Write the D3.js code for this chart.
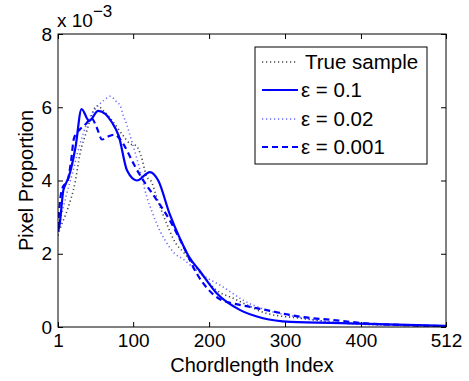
<!DOCTYPE html>
<html><head><meta charset="utf-8">
<script src="https://cdn.jsdelivr.net/npm/d3@7"></script>
<style>body{margin:0;background:#fff;} svg{display:block;font-family:"Liberation Sans",Arial,sans-serif;}</style>
</head><body>
<svg id="c" width="469" height="381"></svg>
<script>
const xTicks = [1, 100, 200, 300, 400, 512];
const yTicks = [0, 2, 4, 6, 8];
const seriesNames = ["True sample", "ε = 0.1", "ε = 0.02", "ε = 0.001"];

const trueIdx = [1,3,13,24,30,39,46,52,63,74,87,96,104,110,118,124,130,138,146,155,166,175,190,210,230,245,276,320,363,420,512];
const trueVal = [2.5,2.64,3.18,4.0,4.73,5.36,5.82,6.04,5.86,5.59,5.22,5.0,4.95,4.7,4.1,3.97,3.6,3.14,2.73,2.32,2.05,1.82,1.45,1.0,0.8,0.65,0.37,0.24,0.13,0.06,0.03];

const e1Idx = [1,3,8,11,15,24,32,42,54,72,81,92,105,122,133,148,162,174,187,210,241,271,307,385,512];
const e1Val = [2.6,2.78,3.73,3.9,4.09,4.9,5.95,5.63,5.9,5.59,5.22,4.27,4.0,4.23,4.0,3.09,2.4,1.9,1.55,0.92,0.46,0.24,0.14,0.1,0.03];

const e2Idx = [1,5,12,20,30,40,52,62,70,78,83,87,92,96,100,110,118,125,131,142,155,166,180,192,218,245,276,310,350,400,512];
const e2Val = [2.6,3.0,3.6,4.2,5.0,5.6,6.0,6.2,6.3,6.15,6.04,5.77,5.5,5.22,4.95,4.2,3.55,3.14,2.82,2.37,2.0,1.85,1.6,1.41,1.1,0.73,0.46,0.3,0.16,0.08,0.03];

const e3Idx = [1,4,8,13,18,22,30,38,45,52,59,67,75,87,93,102,115,130,150,165,184,200,215,232,254,276,320,363,407,460,512];
const e3Val = [2.7,3.5,3.85,3.95,4.5,5.15,5.4,5.55,5.7,5.45,5.12,5.2,5.25,5.0,4.77,4.4,3.95,3.5,2.85,2.25,1.45,1.0,0.75,0.64,0.55,0.46,0.28,0.19,0.1,0.05,0.02];

const svg = d3.select("#c");
const L = 58, R = 446, T = 34, B = 327;
const x = d3.scaleLinear().domain([1, 512]).range([L, R]);
const y = d3.scaleLinear().domain([0, 8]).range([B, T]);

const styles = [
  {color:"#444", width:1.6, dash:"1.2,2.8"},
  {color:"#0000ff", width:2.2, dash:null},
  {color:"#6a6aff", width:1.6, dash:"1.2,2.8"},
  {color:"#0000ff", width:2.2, dash:"6,4"}
];
const data = [[trueIdx,trueVal],[e1Idx,e1Val],[e2Idx,e2Val],[e3Idx,e3Val]];
const line = d3.line().x(d=>x(d[0])).y(d=>y(d[1])).curve(d3.curveMonotoneX);

svg.append("clipPath").attr("id","cp").append("rect")
  .attr("x",L).attr("y",T).attr("width",R-L).attr("height",B-T);

const g = svg.append("g").attr("clip-path","url(#cp)");
[0,2,3,1].forEach(i=>{
  const pts = data[i][0].map((v,k)=>[v, data[i][1][k]]);
  g.append("path").attr("d", line(pts)).attr("fill","none")
    .attr("stroke", styles[i].color).attr("stroke-width", styles[i].width)
    .attr("stroke-dasharray", styles[i].dash);
});

svg.append("rect").attr("x",L).attr("y",T).attr("width",R-L).attr("height",B-T)
  .attr("fill","none").attr("stroke","#000").attr("stroke-width",1);

const ax = svg.append("g");
const xb = d3.axisBottom(x).tickValues(xTicks).tickSize(-5).tickPadding(7).tickFormat(d3.format("d"));
ax.append("g").attr("transform",`translate(0,${B})`).call(xb);
const xt = d3.axisTop(x).tickValues(xTicks).tickSize(-5).tickFormat("");
ax.append("g").attr("transform",`translate(0,${T})`).call(xt);
const yl = d3.axisLeft(y).tickValues(yTicks).tickSize(-5).tickPadding(6).tickFormat(d3.format("d"));
ax.append("g").attr("transform",`translate(${L},0)`).call(yl);
const yr = d3.axisRight(y).tickValues(yTicks).tickSize(-5).tickFormat("");
ax.append("g").attr("transform",`translate(${R},0)`).call(yr);
ax.selectAll(".domain").remove();
ax.selectAll("text").attr("fill","#000").attr("font-family","Liberation Sans, Arial, sans-serif").attr("font-size",19);
ax.selectAll("line").attr("stroke","#000");

svg.append("text").attr("x",(L+R)/2).attr("y",372).attr("text-anchor","middle")
  .attr("font-size",20).text("Chordlength Index");
svg.append("text").attr("transform",`translate(33,${(T+B)/2}) rotate(-90)`).attr("text-anchor","middle")
  .attr("font-size",20).text("Pixel Proportion");

const ex = svg.append("text").attr("x",57).attr("y",27).attr("font-size",19);
ex.append("tspan").text("x 10");
ex.append("tspan").attr("dy",-10).attr("font-size",17).text("−3");

const lg = svg.append("g");
lg.append("rect").attr("x",255).attr("y",47).attr("width",172).attr("height",117)
  .attr("fill","#fff").attr("stroke","#000").attr("stroke-width",1);
const rows = [62, 90, 119, 147];
seriesNames.forEach((n,i)=>{
  lg.append("line").attr("x1",262).attr("x2",298).attr("y1",rows[i]).attr("y2",rows[i])
    .attr("stroke",styles[i].color).attr("stroke-width",styles[i].width)
    .attr("stroke-dasharray",styles[i].dash);
  lg.append("text").attr("x",i===0?305:301).attr("y",rows[i]+7).attr("font-size",20.5).text(n);
});
</script>
</body></html>
